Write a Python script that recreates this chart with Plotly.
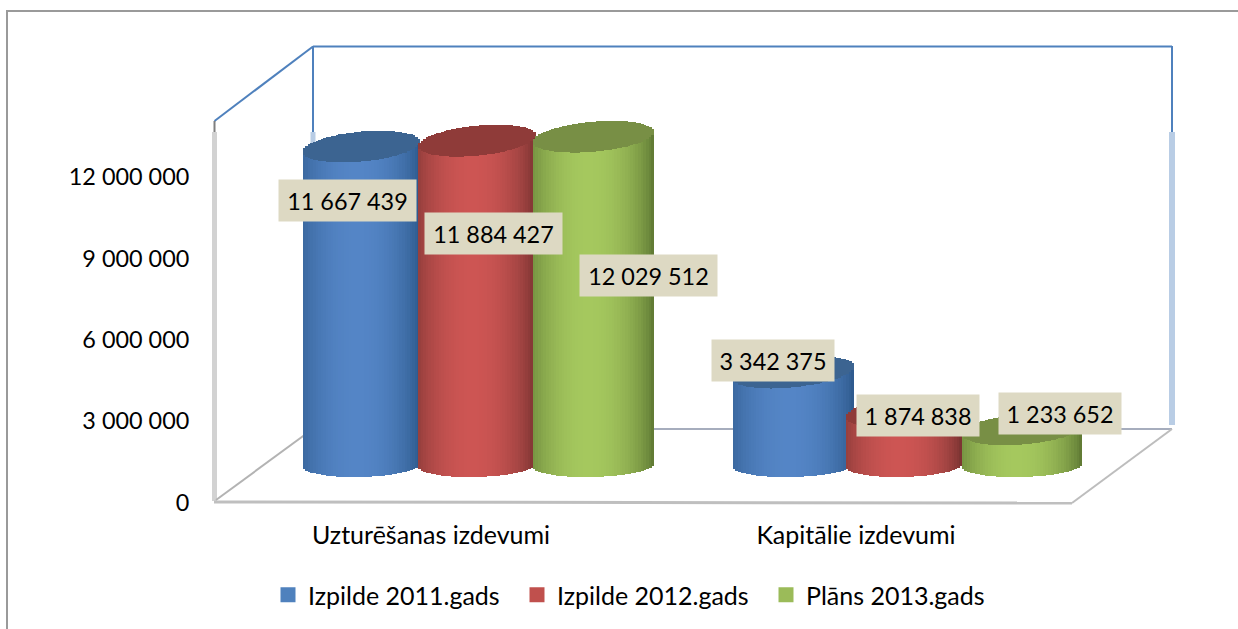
import numpy as np
import plotly.graph_objects as go

# --- data ---
categories = ["Uzturēšanas izdevumi", "Kapitālie izdevumi"]
series_names = ["Izpilde 2011.gads", "Izpilde 2012.gads", "Plāns 2013.gads"]
izpilde_2011 = [11667439, 3342375]
izpilde_2012 = [11884427, 1874838]
plans_2013 = [12029512, 1233652]
y_tick_values = [0, 3000000, 6000000, 9000000, 12000000]
y_tick_labels = ["0", "3 000 000", "6 000 000", "9 000 000", "12 000 000"]

# --- styles ---
W, H = 1238, 629
FONT = "Lato"
FS = 23.4
FS_TEXT = 25
TXT = "#000000"
legend_colors = ["#4F81BD", "#C0504D", "#9BBB59"]
light = [(84, 133, 198), (205, 85, 83), (165, 200, 94)]
dark = [(44, 88, 138), (118, 50, 48), (92, 118, 50)]
top_col = ["#3C6491", "#8F3B39", "#788F45"]
PXV = 27.12 / 1e6
X0, XU = 431.0, 425.0
Y0 = 502.5
depth_lift = 39.5
centers_px = [[-69.5, -62.5], [46.0, 48.0], [162.5, 166.0]]
widths_px = [[117, 121], [117, 116], [121, 120]]
top_tilt = [[5, 6], [5.5, 5], [5, 4.5]]
label_off = [[(-14, 54), (-20.5, -12)], [(16.5, 92.5), (14, 3)], [(54.5, 139), (38, -16)]]
label_w = [[137, 122], [137, 122], [137, 122]]
N = 46
all_vals = [izpilde_2011, izpilde_2012, plans_2013]

px2x = lambda p: (p - X0) / XU
y_rng = [0, (Y0 - 10) / PXV]
y2_rng = [-depth_lift / PXV, (Y0 - 10 - depth_lift) / PXV]

fig = go.Figure()
uu = (np.arange(N) + 0.5) / N * 2 - 1
root = np.sqrt(1 - uu ** 2)
t = np.clip(1 - (np.abs(uu - (-0.08)) / 1.08) ** 2.0, 0, 1) ** 0.8


def rgb(a, b, s):
    return f"rgb({a[0]+(b[0]-a[0])*s:.0f},{a[1]+(b[1]-a[1])*s:.0f},{a[2]+(b[2]-a[2])*s:.0f})"


annotations = []
for s, vals in enumerate(all_vals):
    xs, bases, heights, cols, wid = [], [], [], [], []
    for c, v in enumerate(vals):
        w_px = widths_px[s][c]
        cx = c + centers_px[s][c] / XU
        strip = (w_px / XU) / N
        tilt = top_tilt[s][c] / PXV
        ry_t = 15.0 / PXV
        ry_b = 12.0 / PXV
        base0 = -2.0 / PXV
        tilt_b = 1.5 / PXV
        for i, u in enumerate(uu):
            x = cx + u * (w_px / XU) / 2
            bot = base0 + tilt_b * u - ry_b * root[i]
            front = v + tilt * u - ry_t * root[i]
            back = v + tilt * u + ry_t * root[i]
            xs += [x, x]
            bases += [bot, front]
            heights += [front - bot, back - front]
            cols += [rgb(dark[s], light[s], t[i]), top_col[s]]
            wid += [strip * 1.15, strip * 1.15]
        ox, oy = label_off[s][c]
        annotations.append(dict(
            x=cx, y=v, xref="x", yref="y2", xshift=ox, yshift=-oy,
            text=f"{v:,}".replace(",", " "), showarrow=False,
            bgcolor="#DDD9C3", width=label_w[s][c], height=41,
            font=dict(family=FONT, size=FS, color=TXT),
            xanchor="center", yanchor="middle", align="center", borderpad=0))
    fig.add_trace(go.Bar(x=xs, y=heights, base=bases, width=wid, yaxis="y2",
                         marker=dict(color=cols, line=dict(width=0)),
                         showlegend=False, hoverinfo="skip", cliponaxis=False))

for s, name in enumerate(series_names):
    fig.add_trace(go.Scatter(x=[None], y=[None], mode="markers", name=name,
                             marker=dict(symbol="square", size=15, color=legend_colors[s])))


def seg(x0, y0, x1, y1, color, width):
    return dict(type="line", xref="paper", yref="paper", layer="below",
                x0=x0 / W, x1=x1 / W, y0=1 - y0 / H, y1=1 - y1 / H,
                line=dict(color=color, width=width))


shapes = [
    seg(7, 11, 1238, 11, "#9A9A9A", 2),
    seg(7, 10, 7, 629, "#9A9A9A", 2),
    seg(214.5, 121, 313, 46.5, "#4F81BD", 2),
    seg(313, 46.5, 1172, 46.5, "#4F81BD", 2),
    seg(313, 46, 313, 132, "#4F81BD", 2),
    seg(1172, 46, 1172, 132, "#4F81BD", 2),
    seg(214.5, 121, 214.5, 132, "#7F7F7F", 2),
    seg(214.5, 132, 214.5, 501, "#D2D2D2", 5),
    seg(1172, 132, 1172, 425, "#B9CDE5", 6),
    seg(313, 132, 313, 150, "#B9CDE5", 5),
    seg(216, 500, 310, 431, "#B3B3B3", 2),
    seg(305, 429, 1172, 429, "#A6ADBD", 2),
    seg(1172, 429, 1072, 503, "#BDBDBD", 2),
    seg(214, 502, 1072, 503, "#BFBFBF", 3),
]

fig.update_layout(
    width=W, height=H, margin=dict(l=0, r=0, t=0, b=0, autoexpand=False),
    paper_bgcolor="white", plot_bgcolor="rgba(0,0,0,0)",
    barmode="overlay", bargap=0,
    font=dict(family=FONT, size=FS, color=TXT),
    shapes=shapes, annotations=annotations,
    xaxis=dict(domain=[215 / W, 1], range=[px2x(215), px2x(W)],
               tickvals=[0, 1], ticktext=categories, showgrid=False, zeroline=False,
               showline=False, ticks="outside", ticklen=10.5, tickcolor="rgba(0,0,0,0)",
               tickfont=dict(family=FONT, size=FS_TEXT, color=TXT)),
    yaxis=dict(domain=[1 - Y0 / H, 1 - 10 / H], range=y_rng,
               tickvals=y_tick_values, ticktext=y_tick_labels, showgrid=False, zeroline=False,
               showline=False, ticks="outside", ticklen=20, tickcolor="rgba(0,0,0,0)",
               tickfont=dict(family=FONT, size=FS, color=TXT)),
    yaxis2=dict(domain=[1 - Y0 / H, 1 - 10 / H], range=y2_rng, overlaying="y",
                visible=False),
    legend=dict(orientation="h", x=268 / W, xanchor="left", y=1 - 572 / H, yanchor="top",
                entrywidth=204, entrywidthmode="pixels", bgcolor="rgba(0,0,0,0)",
                font=dict(family=FONT, size=FS_TEXT, color=TXT)),
)
fig.write_html("out.html", config={"displayModeBar": False},
               post_script="document.body.style.margin='0';")
